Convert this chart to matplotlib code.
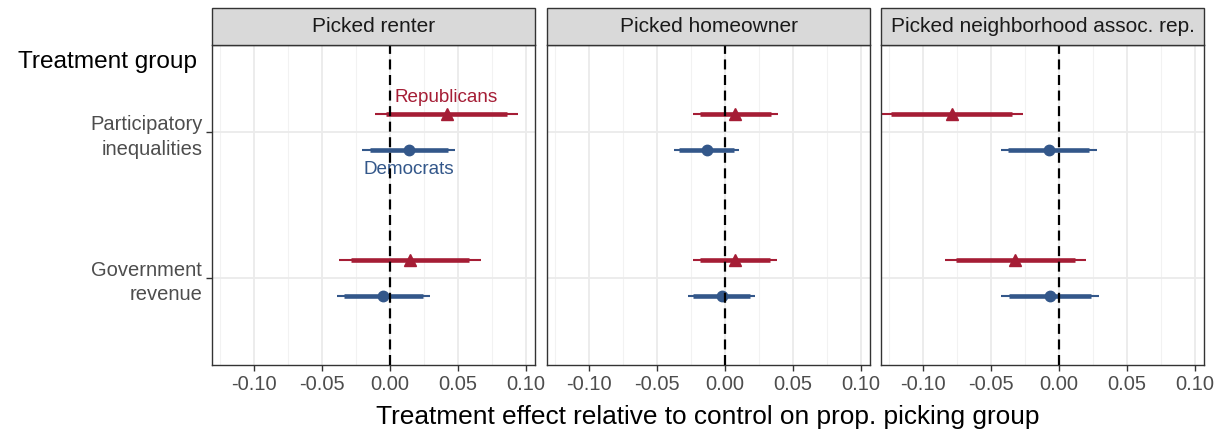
import matplotlib
matplotlib.use("Agg")
import matplotlib.pyplot as plt
from matplotlib.patches import Rectangle

plt.rcParams['font.family'] = ['Liberation Sans', 'DejaVu Sans']

facets = ["Picked renter", "Picked homeowner", "Picked neighborhood assoc. rep."]
treatments = ["Participatory\ninequalities", "Government\nrevenue"]

# rows = facet, cols = treatment (participatory, revenue)
rep_est = [[0.0415, 0.0145], [0.0074, 0.0074], [-0.0790, -0.0324]]
rep_lo90 = [[-0.0031, -0.0289], [-0.0184, -0.0184], [-0.1235, -0.0757]]
rep_hi90 = [[0.0858, 0.0581], [0.0336, 0.0331], [-0.0346, 0.0113]]
rep_lo95 = [[-0.0113, -0.0375], [-0.0238, -0.0233], [-0.1315, -0.0843]]
rep_hi95 = [[0.0943, 0.0667], [0.0385, 0.0380], [-0.0265, 0.0199]]

dem_est = [[0.0136, -0.0051], [-0.0133, -0.0025], [-0.0076, -0.0068]]
dem_lo90 = [[-0.0147, -0.0338], [-0.0338, -0.0233], [-0.0373, -0.0370]]
dem_hi90 = [[0.0422, 0.0238], [0.0068, 0.0184], [0.0219, 0.0236]]
dem_lo95 = [[-0.0204, -0.0392], [-0.0373, -0.0270], [-0.0431, -0.0426]]
dem_hi95 = [[0.0476, 0.0292], [0.0105, 0.0221], [0.0277, 0.0292]]

xticks = [-0.10, -0.05, 0.00, 0.05, 0.10]
xtick_labels = ["-0.10", "-0.05", "0.00", "0.05", "0.10"]
minor_ticks = [-0.125, -0.075, -0.025, 0.025, 0.075]

red = "#A51D35"
blue = "#33578A"
ypos = [2, 1]
dodge = 0.124

W, H = 1227, 437
fig = plt.figure(figsize=(W / 100, H / 100), dpi=100)

panel_left = [212, 547, 881]
panel_w = 323
panel_top, panel_bot = 45, 365
strip_h = 37

parties = [
    (rep_est, rep_lo90, rep_hi90, rep_lo95, rep_hi95, red, "^", dodge),
    (dem_est, dem_lo90, dem_hi90, dem_lo95, dem_hi95, blue, "o", -dodge),
]

axes = []
for i, facet in enumerate(facets):
    ax = fig.add_axes([panel_left[i] / W, (H - panel_bot) / H,
                       panel_w / W, (panel_bot - panel_top) / H])
    axes.append(ax)
    ax.set_xlim(-0.131, 0.1065)
    ax.set_ylim(0.4, 2.6)

    # grid
    for x in minor_ticks:
        ax.axvline(x, color="#F2F2F2", lw=0.8, zorder=0)
    for x in xticks:
        ax.axvline(x, color="#EBEBEB", lw=1.3, zorder=0)
    for y in ypos:
        ax.axhline(y, color="#EBEBEB", lw=1.3, zorder=0)

    for est, lo90, hi90, lo95, hi95, col, mk, off in parties:
        for j, y in enumerate(ypos):
            yy = y + off
            ax.plot([lo95[i][j], hi95[i][j]], [yy, yy], color=col, lw=1.5,
                    solid_capstyle="butt", zorder=2)
            ax.plot([lo90[i][j], hi90[i][j]], [yy, yy], color=col, lw=3.3,
                    solid_capstyle="butt", zorder=3)
            ax.plot(est[i][j], yy, marker=mk, color=col, ms=7.5 if mk == "o" else 9,
                    mec=col, zorder=4)

    ax.axvline(0, color="black", lw=1.6, linestyle=(0, (4.5, 2.5)), zorder=5)

    ax.set_xticks(xticks)
    ax.set_xticklabels(xtick_labels)
    ax.tick_params(axis="x", length=4, width=1, color="#333333",
                   labelsize=14.5, labelcolor="#4D4D4D", pad=3)
    ax.set_yticks(ypos)
    if i == 0:
        ax.set_yticklabels(treatments, linespacing=1.35)
        ax.tick_params(axis="y", length=4, width=1, color="#333333",
                       labelsize=14.5, labelcolor="#4D4D4D", pad=3)
    else:
        ax.set_yticklabels([])
        ax.tick_params(axis="y", length=0)
    for sp in ax.spines.values():
        sp.set_color("#333333")
        sp.set_linewidth(1.0)

    # facet strip
    sh = strip_h / (panel_bot - panel_top)
    ax.add_patch(Rectangle((0, 1), 1, sh, transform=ax.transAxes,
                           facecolor="#D9D9D9", edgecolor="#333333", lw=1.0,
                           clip_on=False, zorder=10))
    ax.text(0.5, 1 + sh / 2, facet, transform=ax.transAxes, ha="center",
            va="center", fontsize=15, color="#1A1A1A", zorder=11)

axes[0].text(rep_est[0][0], 2 + dodge + 0.117, "Republicans", color=red,
             ha="center", va="center", fontsize=13.6)
axes[0].text(dem_est[0][0], 2 - dodge - 0.131, "Democrats", color=blue,
             ha="center", va="center", fontsize=13.6)

fig.text(18 / W, 1 - 62 / H, "Treatment group", ha="left", va="center",
         fontsize=17.6, color="black")
fig.text(708 / W, 1 - 417 / H,
         "Treatment effect relative to control on prop. picking group",
         ha="center", va="center", fontsize=18.9, color="black")

fig.savefig("out.png", dpi=100)
